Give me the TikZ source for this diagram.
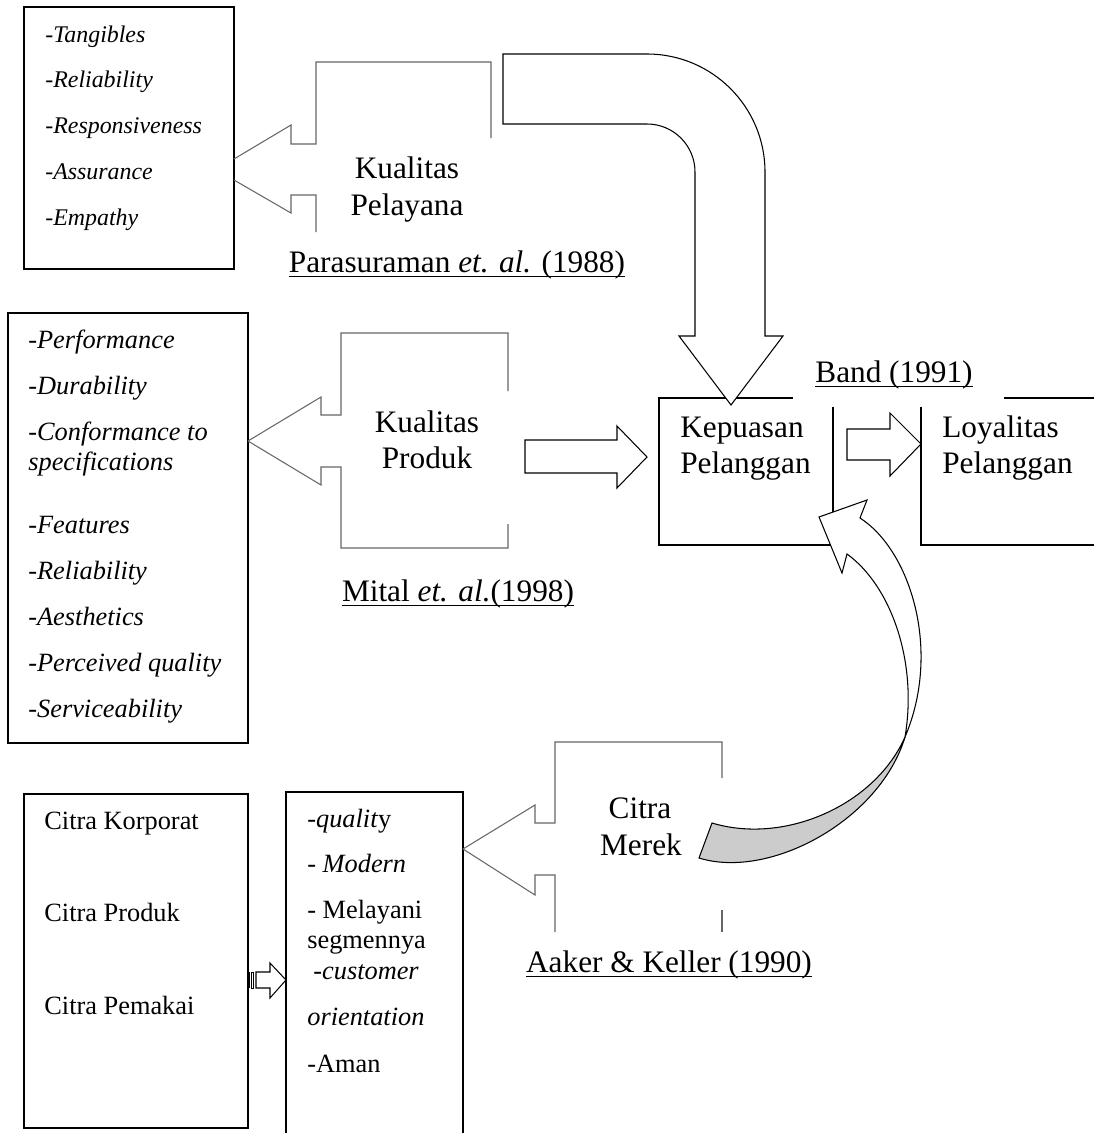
\documentclass[tikz,border=0pt]{standalone}
\usepackage{fontspec}
\setmainfont{Liberation Serif}
\definecolor{undergray}{gray}{0.8}
\newsavebox\labbox
\newcommand{\reflabel}[1]{\sbox\labbox{#1}\rlap{\rule[-3pt]{\wd\labbox}{0.9pt}}\usebox\labbox}

\begin{document}
\begin{tikzpicture}[x=0.02cm, y=-0.02cm,
  big/.style={font=\fontsize{17.8}{21}\selectfont, inner sep=0pt, anchor=base},
  med/.style={font=\fontsize{15}{18}\selectfont, inner sep=0pt, anchor=base west},
  medit/.style={med, font=\fontsize{15}{18}\selectfont\itshape},
  sml/.style={font=\fontsize{13.6}{16}\selectfont\itshape, inner sep=0pt, anchor=base west},
  frame/.style={line width=0.6pt},
  call/.style={line width=0.6pt, black!60},
  block/.style={line width=0.6pt, fill=white}]

\useasboundingbox (0,0) rectangle (1093,1133);

% Service quality dimensions
\draw[frame] (24,7) rectangle (234,269);
\foreach \t [count=\i] in {Tangibles,Reliability,Responsiveness,Assurance,Empathy}
{
\node[sml] (srv\i) at (45,{42+45.8*(\i-1)}) {-\t};
}

% Callout Kualitas Pelayana
\draw[call] (234,159) -- (291,125) -- (291,144) -- (316,144) -- (316,62) -- (491,62) -- (491,138);
\draw[call] (234,180) -- (291,213) -- (291,195) -- (316,195) -- (316,232);
\node[big] (kpel1) at (407,178) {Kualitas};
\node[big] (kpel2) at (407,215) {Pelayana};
\node[big] (para) at (457,272) {\reflabel{Parasuraman \textit{et. al.} (1988)}};

% Product quality dimensions
\draw[frame] (8,313) rectangle (248,743);
\foreach \y/\t [count=\i] in {348/-Performance,394/-Durability,440/-Conformance to,470/specifications,533/-Features,579/-Reliability,625/-Aesthetics,671/-Perceived quality,717/-Serviceability}
{
\node[medit] (prd\i) at (28,\y) {\t};
}

% Callout Kualitas Produk
\draw[call] (248,441) -- (321,397) -- (321,415) -- (341,415) -- (341,333) -- (508,333) -- (508,391);
\draw[call] (248,441) -- (321,485) -- (321,467) -- (341,467) -- (341,548) -- (508,548) -- (508,524);
\node[big] (kprd1) at (427,432) {Kualitas};
\node[big] (kprd2) at (427,468) {Produk};
\node[big] (mital) at (458,601) {\reflabel{Mital \textit{et. al.}(1998)}};

% Block arrow to satisfaction
\draw[block] (525,440) -- (617,440) -- (617,426) -- (647,457) -- (617,488) -- (617,473) -- (525,473) -- cycle;

% Satisfaction and loyalty
\draw[frame] (659,398) rectangle (833,545);
\draw[frame] (921,398) rectangle (1100,545);
\fill[white] (793,340) rectangle (1004,407);
\node[big] (band) at (894,382) {\reflabel{Band (1991)}};
\node[big, anchor=base west] (kep1) at (680,437) {Kepuasan};
\node[big, anchor=base west] (kep2) at (680,473) {Pelanggan};
\node[big, anchor=base west] (loy1) at (942,437) {Loyalitas};
\node[big, anchor=base west] (loy2) at (942,473) {Pelanggan};
\draw[block] (847,429) -- (890,429) -- (890,413) -- (921,444) -- (890,476) -- (890,460) -- (847,460) -- cycle;

% Bent arrow from service quality
\draw[block] (503,54) -- (647,54) arc (-90:0:118) -- (765,336) -- (783,336) -- (731,405) -- (679,336) -- (695,336) -- (695,172) arc (0:-90:48) -- (503,124) -- cycle;

% Image components
\draw[frame] (24,794) rectangle (248,1128);
\node[med] (ckor) at (44,829) {Citra Korporat};
\node[med] (cprd) at (44,921) {Citra Produk};
\node[med] (cpem) at (44,1014) {Citra Pemakai};

% Brand attributes
\draw[frame] (286,792) rectangle (463,1140);
\node[med] (atr1) at (307,827) {\textit{-qualit}y};
\node[med] (atr2) at (307,872) {- \textit{Modern}};
\node[med] (atr3) at (307,918) {- Melayani};
\node[med] (atr4) at (307,948) {segmennya};
\node[medit] (atr5) at (313,979) {-customer};
\node[medit] (atr6) at (307,1025) {orientation};
\node[med] (atr7) at (307,1072) {-Aman};

% Striped arrow
\draw[line width=0.8pt] (249.5,972) -- (249.5,988);
\draw[line width=0.5pt] (251.5,972) rectangle (253.5,988);
\draw[block] (256,972) -- (270,972) -- (270,963) -- (286,980) -- (270,998) -- (270,988) -- (256,988) -- cycle;

% Callout Citra Merek
\draw[call] (463,849) -- (535,805) -- (535,823) -- (555,823) -- (555,742) -- (722,742) -- (722,778);
\draw[call] (463,849) -- (535,895) -- (535,875) -- (555,875) -- (555,932);
\draw[call] (722,910) -- (722,932);
\node[big] (cmer1) at (640,818) {Citra};
\node[big] (cmer2) at (641,855) {Merek};
\node[big] (aaker) at (669,972) {\reflabel{Aaker \& Keller (1990)}};

% Curved arrow back to satisfaction
\draw[frame, fill=undergray] (905,737) .. controls (875,805) and (785,845) .. (712,823) -- (699,858) .. controls (770,880) and (880,820) .. (905,737) -- cycle;
\draw[block] (905,737) .. controls (918,660) and (890,585) .. (847,554) -- (842,573) -- (819,517) -- (867,500) -- (860,518) .. controls (910,550) and (942,650) .. (905,737) -- cycle;

\end{tikzpicture}
\end{document}
